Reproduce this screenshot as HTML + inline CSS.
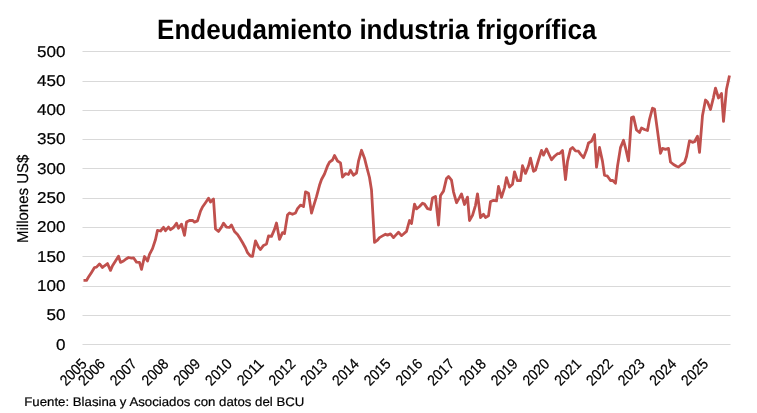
<!DOCTYPE html>
<html><head><meta charset="utf-8"><style>
html,body{margin:0;padding:0;background:#fff;}
body{width:757px;height:413px;overflow:hidden;}
svg{display:block;}
text{font-family:"Liberation Sans",sans-serif;fill:#000;text-rendering:geometricPrecision;}
.s{stroke:#000;stroke-width:0.2px;}
svg{will-change:transform;}
</style></head><body>
<svg width="757" height="413" viewBox="0 0 757 413">
<rect width="757" height="413" fill="#fff"/>
<text x="157.1" y="39" font-weight="bold" font-size="28" textLength="439.3" lengthAdjust="spacingAndGlyphs">Endeudamiento industria frigorífica</text>
<rect x="82.5" y="51" width="648" height="1" fill="#D9D9D9"/><rect x="82.5" y="81" width="648" height="1" fill="#D9D9D9"/><rect x="82.5" y="110" width="648" height="1" fill="#D9D9D9"/><rect x="82.5" y="139" width="648" height="1" fill="#D9D9D9"/><rect x="82.5" y="168" width="648" height="1" fill="#D9D9D9"/><rect x="82.5" y="198" width="648" height="1" fill="#D9D9D9"/><rect x="82.5" y="227" width="648" height="1" fill="#D9D9D9"/><rect x="82.5" y="256" width="648" height="1" fill="#D9D9D9"/><rect x="82.5" y="286" width="648" height="1" fill="#D9D9D9"/><rect x="82.5" y="315" width="648" height="1" fill="#D9D9D9"/><rect x="82.5" y="344" width="648" height="1" fill="#D9D9D9"/>
<g class="s" font-size="15.7"><text x="65.6" y="56.89" text-anchor="end" textLength="28.5" lengthAdjust="spacingAndGlyphs">500</text><text x="65.6" y="85.85" text-anchor="end" textLength="28.5" lengthAdjust="spacingAndGlyphs">450</text><text x="65.6" y="114.85" text-anchor="end" textLength="28.5" lengthAdjust="spacingAndGlyphs">400</text><text x="65.6" y="143.85" text-anchor="end" textLength="28.5" lengthAdjust="spacingAndGlyphs">350</text><text x="65.6" y="173.89" text-anchor="end" textLength="28.5" lengthAdjust="spacingAndGlyphs">300</text><text x="65.6" y="202.85" text-anchor="end" textLength="28.5" lengthAdjust="spacingAndGlyphs">250</text><text x="65.6" y="231.85" text-anchor="end" textLength="28.5" lengthAdjust="spacingAndGlyphs">200</text><text x="65.6" y="261.89" text-anchor="end" textLength="28.5" lengthAdjust="spacingAndGlyphs">150</text><text x="65.6" y="290.85" text-anchor="end" textLength="28.5" lengthAdjust="spacingAndGlyphs">100</text><text x="65.6" y="319.85" text-anchor="end" textLength="19.0" lengthAdjust="spacingAndGlyphs">50</text><text x="65.6" y="349.85" text-anchor="end" textLength="9.5" lengthAdjust="spacingAndGlyphs">0</text></g>
<text class="s" transform="translate(27.7,198.85) rotate(-90)" text-anchor="middle" font-size="15.6" textLength="88.4" lengthAdjust="spacingAndGlyphs">Millones US$</text>
<g class="s" font-size="15"><text transform="translate(87.60,364.80) rotate(-45)" text-anchor="end" textLength="30.7" lengthAdjust="spacingAndGlyphs">2005</text><text transform="translate(106.00,364.80) rotate(-45)" text-anchor="end" textLength="30.7" lengthAdjust="spacingAndGlyphs">2006</text><text transform="translate(137.74,364.80) rotate(-45)" text-anchor="end" textLength="30.7" lengthAdjust="spacingAndGlyphs">2007</text><text transform="translate(169.48,364.80) rotate(-45)" text-anchor="end" textLength="30.7" lengthAdjust="spacingAndGlyphs">2008</text><text transform="translate(201.22,364.80) rotate(-45)" text-anchor="end" textLength="30.7" lengthAdjust="spacingAndGlyphs">2009</text><text transform="translate(232.96,364.80) rotate(-45)" text-anchor="end" textLength="30.7" lengthAdjust="spacingAndGlyphs">2010</text><text transform="translate(264.70,364.80) rotate(-45)" text-anchor="end" textLength="30.7" lengthAdjust="spacingAndGlyphs">2011</text><text transform="translate(296.44,364.80) rotate(-45)" text-anchor="end" textLength="30.7" lengthAdjust="spacingAndGlyphs">2012</text><text transform="translate(328.18,364.80) rotate(-45)" text-anchor="end" textLength="30.7" lengthAdjust="spacingAndGlyphs">2013</text><text transform="translate(359.92,364.80) rotate(-45)" text-anchor="end" textLength="30.7" lengthAdjust="spacingAndGlyphs">2014</text><text transform="translate(391.66,364.80) rotate(-45)" text-anchor="end" textLength="30.7" lengthAdjust="spacingAndGlyphs">2015</text><text transform="translate(423.40,364.80) rotate(-45)" text-anchor="end" textLength="30.7" lengthAdjust="spacingAndGlyphs">2016</text><text transform="translate(455.14,364.80) rotate(-45)" text-anchor="end" textLength="30.7" lengthAdjust="spacingAndGlyphs">2017</text><text transform="translate(486.88,364.80) rotate(-45)" text-anchor="end" textLength="30.7" lengthAdjust="spacingAndGlyphs">2018</text><text transform="translate(518.62,364.80) rotate(-45)" text-anchor="end" textLength="30.7" lengthAdjust="spacingAndGlyphs">2019</text><text transform="translate(550.36,364.80) rotate(-45)" text-anchor="end" textLength="30.7" lengthAdjust="spacingAndGlyphs">2020</text><text transform="translate(582.10,364.80) rotate(-45)" text-anchor="end" textLength="30.7" lengthAdjust="spacingAndGlyphs">2021</text><text transform="translate(613.84,364.80) rotate(-45)" text-anchor="end" textLength="30.7" lengthAdjust="spacingAndGlyphs">2022</text><text transform="translate(645.58,364.80) rotate(-45)" text-anchor="end" textLength="30.7" lengthAdjust="spacingAndGlyphs">2023</text><text transform="translate(677.32,364.80) rotate(-45)" text-anchor="end" textLength="30.7" lengthAdjust="spacingAndGlyphs">2024</text><text transform="translate(709.06,364.80) rotate(-45)" text-anchor="end" textLength="30.7" lengthAdjust="spacingAndGlyphs">2025</text></g>
<polyline points="83.5,280.4 86.5,280.4 88.5,277.1 91.5,272.4 94.5,267.5 96.5,267.1 99.5,263.9 102.5,267.5 104.5,265.8 107.5,263.6 110.5,270.4 112.5,265.8 115.5,261.0 118.5,256.2 120.5,262.4 123.5,261.0 126.5,258.7 128.5,257.5 131.5,258.2 133.5,257.8 136.5,262.1 139.5,262.3 141.5,269.4 144.5,256.5 147.5,261.1 149.5,254.4 152.5,248.6 155.5,239.5 157.5,230.4 160.5,231.0 163.5,227.3 165.5,230.7 168.5,227.1 170.5,229.7 173.5,227.5 176.5,223.2 178.5,228.2 181.5,224.2 184.5,235.4 186.5,222.1 189.5,220.5 192.5,220.3 194.5,222.1 197.5,220.9 200.5,211.2 202.5,207.0 205.5,202.7 208.5,198.2 210.5,202.1 213.5,199.1 215.5,229.0 218.5,231.4 221.5,227.1 223.5,223.2 226.5,227.1 229.5,227.4 231.5,225.0 234.5,231.5 237.5,234.4 239.5,237.5 242.5,242.5 245.5,248.0 247.5,252.6 250.5,256.2 252.5,256.4 255.5,240.8 258.5,247.1 260.5,249.5 263.5,245.4 266.5,244.0 268.5,236.0 271.5,236.4 274.5,229.4 276.5,223.0 279.5,239.4 282.5,232.6 284.5,233.6 287.5,215.0 289.5,212.9 292.5,214.3 295.5,213.0 297.5,208.7 300.5,205.1 303.5,206.6 305.5,191.9 308.5,193.2 311.5,213.0 313.5,206.4 316.5,196.7 319.5,185.3 321.5,179.5 324.5,174.0 327.5,166.0 329.5,162.2 332.5,160.0 334.5,155.5 337.5,161.0 340.5,162.9 342.5,177.0 345.5,173.7 348.5,174.5 350.5,170.2 353.5,175.2 356.5,173.0 358.5,161.2 361.5,150.3 364.5,158.2 366.5,166.1 369.5,177.5 371.5,190.0 374.5,242.4 377.5,240.2 379.5,237.6 382.5,235.9 385.5,234.2 387.5,235.1 390.5,233.9 393.5,237.6 395.5,235.4 398.5,232.2 401.5,235.6 403.5,234.0 406.5,231.4 409.5,220.5 411.5,223.5 414.5,204.1 416.5,208.9 419.5,206.5 422.5,203.2 424.5,204.1 427.5,208.6 430.5,209.5 432.5,198.0 435.5,196.5 438.5,225.0 440.5,195.5 443.5,191.1 446.5,178.4 448.5,176.5 451.5,180.2 453.5,191.8 456.5,202.7 459.5,197.6 461.5,194.0 464.5,204.5 467.5,197.1 469.5,220.5 472.5,215.4 475.5,205.3 477.5,193.8 480.5,217.5 483.5,214.3 485.5,217.5 488.5,215.8 490.5,201.5 493.5,200.4 496.5,200.9 498.5,186.5 501.5,197.3 504.5,187.8 506.5,177.6 509.5,187.1 512.5,184.2 514.5,171.8 517.5,180.7 520.5,180.6 522.5,165.7 525.5,173.4 528.5,166.0 530.5,158.2 533.5,171.3 535.5,170.0 538.5,160.0 541.5,150.4 543.5,155.1 546.5,148.9 549.5,155.5 551.5,159.7 554.5,156.3 557.5,153.7 559.5,153.6 562.5,150.5 565.5,179.5 567.5,161.4 570.5,149.0 572.5,147.5 575.5,150.9 578.5,151.2 580.5,154.1 583.5,157.7 586.5,150.1 588.5,143.0 591.5,141.3 594.5,134.5 596.5,167.2 599.5,147.5 602.5,161.4 604.5,175.2 607.5,176.2 610.5,180.5 612.5,180.3 615.5,183.2 617.5,166.3 620.5,147.6 623.5,140.3 625.5,147.8 628.5,160.9 631.5,117.6 633.5,116.9 636.5,130.0 639.5,132.5 641.5,128.0 644.5,129.5 647.5,130.5 649.5,119.3 652.5,108.2 654.5,109.0 657.5,130.9 660.5,153.3 662.5,148.4 665.5,149.4 668.5,148.4 670.5,162.0 673.5,164.5 676.5,166.2 678.5,167.0 681.5,164.5 684.5,162.5 686.5,156.5 689.5,140.8 692.5,142.3 694.5,141.7 697.5,136.3 699.5,152.4 702.5,115.5 705.5,100.0 707.5,102.0 710.5,109.5 713.5,97.3 715.5,88.1 718.5,98.0 721.5,93.5 723.5,121.3 726.5,89.2 729.5,75.5" fill="none" stroke="#C0504D" stroke-width="2.8" stroke-linejoin="round" stroke-linecap="butt"/>
<text class="s" x="24.3" y="406" font-size="12.5" textLength="280" lengthAdjust="spacingAndGlyphs">Fuente: Blasina y Asociados con datos del BCU</text>
</svg>
</body></html>
